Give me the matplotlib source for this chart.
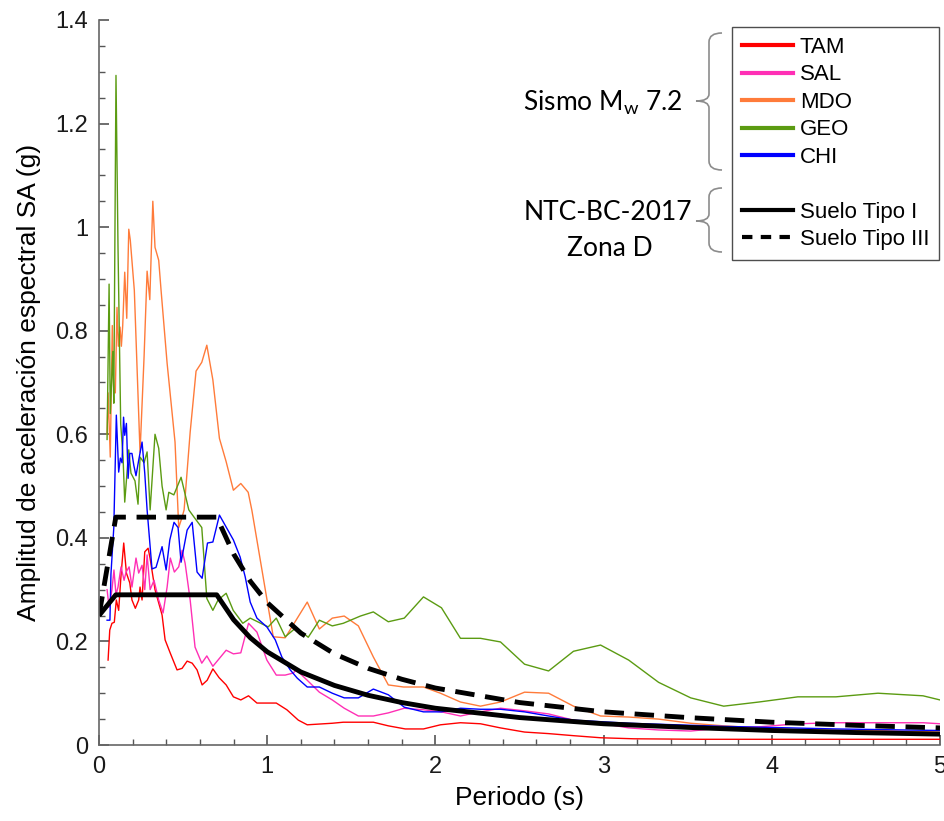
import matplotlib
matplotlib.use("Agg")
import matplotlib.pyplot as plt
from matplotlib.lines import Line2D
from matplotlib.path import Path
from matplotlib.patches import PathPatch
from matplotlib.ticker import MultipleLocator, FormatStrFormatter

plt.rcParams['font.family'] = ['Liberation Sans', 'DejaVu Sans']
plt.rcParams['mathtext.fontset'] = 'custom'
plt.rcParams['mathtext.rm'] = 'Lato'

# registros del sismo Mw 7.2 (periodo s, SA g)
tam_t = [0.054, 0.064, 0.077, 0.091, 0.103, 0.117, 0.131, 0.147, 0.163, 0.183, 0.196, 0.216, 0.236, 0.244,
         0.256, 0.272, 0.292, 0.304, 0.333, 0.375, 0.393, 0.423, 0.464, 0.494, 0.524, 0.554, 0.583, 0.613,
         0.643, 0.677, 0.714, 0.756, 0.799, 0.843, 0.889, 0.939, 1.054, 1.117, 1.185, 1.238, 1.387, 1.452,
         1.631, 1.720, 1.821, 1.929, 2.030, 2.149, 2.268, 2.387, 2.530, 2.673, 2.821, 2.982, 3.179, 3.58,
         4.17, 5.0]
tam_sa = [0.164, 0.222, 0.235, 0.237, 0.28, 0.26, 0.328, 0.39, 0.332, 0.313, 0.28, 0.264, 0.28, 0.305,
          0.28, 0.373, 0.38, 0.36, 0.30, 0.251, 0.203, 0.178, 0.145, 0.148, 0.162, 0.158, 0.145, 0.116,
          0.125, 0.147, 0.13, 0.116, 0.093, 0.087, 0.095, 0.081, 0.081, 0.068, 0.048, 0.039, 0.042, 0.044,
          0.044, 0.037, 0.031, 0.031, 0.039, 0.043, 0.041, 0.033, 0.025, 0.022, 0.018, 0.014, 0.012, 0.011,
          0.011, 0.011]

sal_t = [0.048, 0.060, 0.077, 0.089, 0.101, 0.113, 0.131, 0.149, 0.161, 0.179, 0.196, 0.220, 0.236, 0.256,
         0.272, 0.286, 0.304, 0.327, 0.355, 0.381, 0.405, 0.424, 0.448, 0.474, 0.494, 0.512, 0.542, 0.571,
         0.611, 0.641, 0.677, 0.756, 0.799, 0.843, 0.889, 0.939, 0.998, 1.054, 1.107, 1.155, 1.173, 1.238,
         1.310, 1.387, 1.458, 1.542, 1.631, 1.720, 1.815, 1.929, 2.036, 2.149, 2.268, 2.387, 2.530, 2.673,
         2.821, 2.982, 3.149, 3.327, 3.518, 3.714, 3.923, 4.155, 4.381, 4.631, 4.899, 5.0]
sal_sa = [0.30, 0.266, 0.30, 0.338, 0.29, 0.305, 0.344, 0.318, 0.334, 0.344, 0.305, 0.361, 0.332, 0.347,
          0.30, 0.367, 0.30, 0.318, 0.28, 0.255, 0.305, 0.361, 0.334, 0.344, 0.376, 0.351, 0.28, 0.189,
          0.158, 0.172, 0.152, 0.183, 0.176, 0.178, 0.235, 0.218, 0.164, 0.135, 0.135, 0.139, 0.145, 0.125,
          0.102, 0.087, 0.071, 0.056, 0.056, 0.062, 0.071, 0.068, 0.064, 0.056, 0.064, 0.071, 0.066, 0.060,
          0.048, 0.042, 0.033, 0.029, 0.027, 0.033, 0.035, 0.041, 0.043, 0.043, 0.043, 0.041]

mdo_t = [0.048, 0.054, 0.067, 0.079, 0.088, 0.097, 0.107, 0.115, 0.125, 0.133, 0.141, 0.153, 0.165, 0.177,
         0.186, 0.210, 0.244, 0.268, 0.286, 0.302, 0.320, 0.333, 0.355, 0.369, 0.405, 0.452, 0.474, 0.494,
         0.506, 0.542, 0.577, 0.611, 0.641, 0.677, 0.716, 0.756, 0.799, 0.843, 0.887, 0.909, 1.036, 1.107,
         1.238, 1.310, 1.387, 1.458, 1.542, 1.631, 1.720, 1.810, 1.929, 2.030, 2.149, 2.268, 2.387, 2.530,
         2.673, 2.821, 2.982, 3.149, 3.327, 3.518, 3.714, 3.923, 4.155, 4.631, 5.0]
mdo_sa = [0.60, 0.68, 0.556, 0.81, 0.68, 0.68, 0.845, 0.77, 0.807, 0.77, 0.81, 0.913, 0.824, 0.996,
          0.975, 0.878, 0.565, 0.75, 0.915, 0.86, 1.05, 0.961, 0.936, 0.878, 0.737, 0.585, 0.42, 0.44,
          0.454, 0.604, 0.722, 0.739, 0.772, 0.705, 0.592, 0.547, 0.492, 0.505, 0.488, 0.453, 0.209, 0.207,
          0.276, 0.224, 0.245, 0.249, 0.23, 0.17, 0.116, 0.112, 0.112, 0.10, 0.083, 0.075, 0.083, 0.102,
          0.100, 0.075, 0.056, 0.054, 0.050, 0.042, 0.037, 0.033, 0.029, 0.028, 0.025]

geo_t = [0.048, 0.060, 0.067, 0.082, 0.088, 0.101, 0.113, 0.129, 0.143, 0.153, 0.177, 0.190, 0.214, 0.232,
         0.244, 0.268, 0.286, 0.304, 0.333, 0.355, 0.375, 0.399, 0.415, 0.445, 0.488, 0.534, 0.565, 0.611,
         0.641, 0.677, 0.708, 0.756, 0.798, 0.855, 0.899, 1.006, 1.054, 1.107, 1.173, 1.244, 1.310, 1.387,
         1.452, 1.554, 1.631, 1.720, 1.815, 1.929, 2.036, 2.149, 2.268, 2.387, 2.530, 2.673, 2.821, 2.982,
         3.149, 3.327, 3.518, 3.714, 3.923, 4.155, 4.381, 4.631, 4.899, 5.0]
geo_sa = [0.59, 0.89, 0.64, 0.76, 0.66, 1.293, 0.961, 0.62, 0.556, 0.469, 0.57, 0.525, 0.51, 0.465,
          0.556, 0.545, 0.566, 0.454, 0.60, 0.573, 0.50, 0.454, 0.488, 0.483, 0.517, 0.454, 0.44, 0.42,
          0.283, 0.26, 0.28, 0.293, 0.26, 0.235, 0.245, 0.228, 0.245, 0.209, 0.227, 0.208, 0.241, 0.23,
          0.235, 0.249, 0.257, 0.238, 0.245, 0.286, 0.265, 0.206, 0.206, 0.199, 0.156, 0.143, 0.181, 0.193,
          0.164, 0.121, 0.091, 0.075, 0.083, 0.093, 0.093, 0.100, 0.095, 0.087]

chi_t = [0.048, 0.065, 0.071, 0.088, 0.103, 0.117, 0.127, 0.137, 0.146, 0.153, 0.163, 0.173, 0.183, 0.196,
         0.207, 0.220, 0.236, 0.256, 0.272, 0.286, 0.315, 0.339, 0.375, 0.399, 0.421, 0.446, 0.470, 0.488,
         0.524, 0.554, 0.583, 0.613, 0.645, 0.677, 0.716, 0.799, 0.839, 0.869, 0.899, 0.939, 0.998, 1.048,
         1.087, 1.137, 1.179, 1.238, 1.310, 1.387, 1.458, 1.542, 1.631, 1.720, 1.815, 1.929, 2.036, 2.149,
         2.268, 2.387, 2.530, 2.673, 2.821, 3.149, 3.714, 4.381, 5.0]
chi_sa = [0.241, 0.241, 0.33, 0.42, 0.637, 0.527, 0.554, 0.545, 0.633, 0.598, 0.621, 0.515, 0.563, 0.563,
          0.54, 0.52, 0.55, 0.585, 0.525, 0.454, 0.34, 0.343, 0.383, 0.338, 0.396, 0.43, 0.42, 0.353,
          0.415, 0.43, 0.334, 0.322, 0.39, 0.392, 0.444, 0.396, 0.363, 0.325, 0.276, 0.245, 0.228, 0.203,
          0.17, 0.145, 0.129, 0.112, 0.112, 0.100, 0.091, 0.091, 0.108, 0.097, 0.073, 0.064, 0.064, 0.071,
          0.069, 0.069, 0.064, 0.056, 0.048, 0.042, 0.036, 0.031, 0.028]

# espectros de diseño NTC-BC-2017, zona D
dis_t = [0.0, 0.1, 0.7, 0.8, 0.9, 1.0, 1.2, 1.4, 1.6, 1.8, 2.0, 2.5, 3.0, 3.5, 4.0, 4.5, 5.0]
tipo1_sa = [0.25, 0.29, 0.29, 0.242, 0.207, 0.180, 0.141, 0.115, 0.096, 0.082, 0.071, 0.053, 0.041,
            0.034, 0.028, 0.024, 0.021]
tipo3_sa = [0.25, 0.44, 0.44, 0.369, 0.316, 0.275, 0.216, 0.176, 0.148, 0.127, 0.110, 0.082, 0.064,
            0.053, 0.044, 0.038, 0.033]

estaciones = ['TAM', 'SAL', 'MDO', 'GEO', 'CHI']
colores = ['#ff0000', '#ff2fb5', '#ff7b3a', '#5b9b12', '#0000ff']
series = [(tam_t, tam_sa), (sal_t, sal_sa), (mdo_t, mdo_sa), (geo_t, geo_sa), (chi_t, chi_sa)]

W, H = 945, 821
fig = plt.figure(figsize=(W / 100, H / 100), dpi=100)
ax = fig.add_axes([99 / W, 1 - 745 / H, 841 / W, 725 / H])

for (t, sa), c in zip(series, colores):
    ax.plot(t, sa, color=c, lw=1.0)
ax.plot(dis_t, tipo1_sa, color='black', lw=3.5, solid_capstyle='butt')
ax.plot(dis_t, tipo3_sa, color='black', lw=3.5, dashes=(4, 2.2))

ax.set_xlim(0, 5)
ax.set_ylim(0, 1.4)
ax.xaxis.set_major_locator(MultipleLocator(1))
ax.xaxis.set_minor_locator(MultipleLocator(0.2))
ax.yaxis.set_major_locator(MultipleLocator(0.2))
ax.yaxis.set_minor_locator(MultipleLocator(0.05))
ax.xaxis.set_major_formatter(FormatStrFormatter('%g'))
ax.yaxis.set_major_formatter(FormatStrFormatter('%g'))
for s in ['top', 'right']:
    ax.spines[s].set_visible(False)
for s in ['left', 'bottom']:
    ax.spines[s].set_color('#666666')
    ax.spines[s].set_linewidth(1.2)
ax.tick_params(which='both', direction='in', color='#555555', labelsize=17, labelcolor='#1a1a1a')
ax.tick_params(which='major', length=7, width=1.2, pad=8)
ax.tick_params(which='minor', length=4, width=1.0)
ax.set_xlabel('Periodo (s)', fontsize=19, labelpad=6)
ax.set_ylabel('Amplitud de aceleración espectral SA (g)', fontsize=19, labelpad=10)

# leyenda
handles = [Line2D([], [], color=c, lw=3) for c in colores]
handles.append(Line2D([], [], color='none'))
handles.append(Line2D([], [], color='black', lw=3))
handles.append(Line2D([], [], color='black', lw=3, dashes=(2.5, 2)))
labels = estaciones + ['', 'Suelo Tipo I', 'Suelo Tipo III']
leg = fig.legend(handles, labels, loc='upper left', bbox_to_anchor=(732 / W, 1 - 27 / H),
                 fontsize=16, frameon=True, fancybox=False, edgecolor='#222222',
                 handlelength=2.3, handletextpad=0.3, labelspacing=0.29, borderpad=0.45,
                 borderaxespad=0)
leg.get_frame().set_linewidth(1.0)


def px(x, y):
    return (x / W, 1 - y / H)


def llave(x, y0, y1, ym):
    verts = [px(x + 13, y0), px(x, y0), px(x, y0 + 9), px(x, ym - 7), px(x, ym), px(x - 13, ym),
             px(x, ym), px(x, ym + 7), px(x, y1 - 9), px(x, y1), px(x + 13, y1)]
    codes = [Path.MOVETO, Path.CURVE3, Path.CURVE3, Path.LINETO, Path.CURVE3, Path.CURVE3,
             Path.CURVE3, Path.CURVE3, Path.LINETO, Path.CURVE3, Path.CURVE3]
    fig.add_artist(PathPatch(Path(verts, codes), transform=fig.transFigure, fill=False,
                             edgecolor='#8c8c8c', lw=1.2))


llave(709, 33, 170, 101)
llave(709, 188, 252, 221)

fig.text(*px(683, 103), r'Sismo M$_{\mathrm{w}}$ 7.2', ha='right', va='center', fontsize=19,
         family=['Lato', 'DejaVu Sans'])
fig.text(*px(608, 212), 'NTC-BC-2017', ha='center', va='center', fontsize=19,
         family=['Lato', 'DejaVu Sans'])
fig.text(*px(610, 249), 'Zona D', ha='center', va='center', fontsize=19,
         family=['Lato', 'DejaVu Sans'])

fig.savefig('out.png', dpi=100)
